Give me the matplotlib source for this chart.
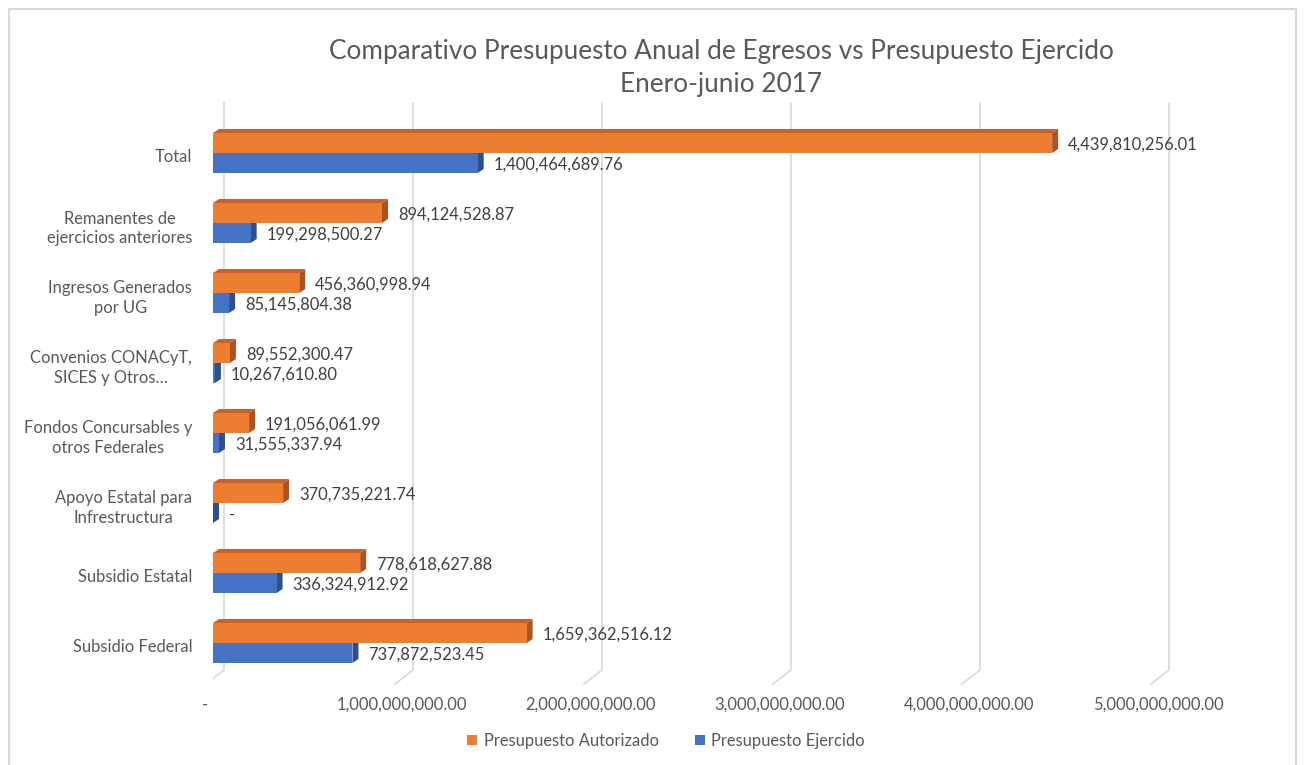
import numpy as np
import matplotlib.pyplot as plt
from matplotlib.patches import Polygon, Rectangle, Patch
from matplotlib.transforms import ScaledTranslation

plt.rcParams['font.family'] = ['Lato', 'DejaVu Sans']

# datos (de abajo hacia arriba)
categorias = ['Subsidio Federal', 'Subsidio Estatal', 'Apoyo Estatal para\nInfrestructura',
              'Fondos Concursables y\notros Federales', 'Convenios CONACyT,\nSICES y Otros…',
              'Ingresos Generados\npor UG', 'Remanentes de\nejercicios anteriores', 'Total']
autorizado = [1659362516.12, 778618627.88, 370735221.74, 191056061.99,
              89552300.47, 456360998.94, 894124528.87, 4439810256.01]
ejercido = [737872523.45, 336324912.92, 0.0, 31555337.94,
            10267610.80, 85145804.38, 199298500.27, 1400464689.76]
ticks_x = [0, 1e9, 2e9, 3e9, 4e9, 5e9]

naranja = ('#ED7D31', '#C8622A', '#AE5320')
azul = ('#4472C4', '#3A63AD', '#2C4F8F')
gris_txt = '#595959'
gris_grid = '#D9D9D9'

W, H = 1305, 765
fig = plt.figure(figsize=(W / 100, H / 100), dpi=100)

# area de trazado (px)
left_px, top_px, bottom_px = 213, 85, 690
escala = 189.0  # px por 1e9
width_px = 1090
ax = fig.add_axes([left_px / W, 1 - bottom_px / H, width_px / W, (bottom_px - top_px) / H])
U = 1e9 / escala   # unidades x por px
V = 1 / 70.0       # unidades y por px
ax.set_xlim(0, width_px * U)
ax.set_ylim(-(bottom_px - 645) * V, 7 + (155 - top_px) * V)
for s in ax.spines.values():
    s.set_visible(False)

# rejilla en perspectiva
for t in ticks_x:
    ax.plot([t + 11 * U, t + 11 * U, t - 7 * U],
            [7 + 52 * V, -25 * V, -39 * V], color=gris_grid, lw=1.2, zorder=0)


def barra3d(y0, h, v, cols):
    dx, dy = 6 * U, 4 * V
    front, top, side = cols
    ax.add_patch(Polygon([(0, y0 + h), (v, y0 + h), (v + dx, y0 + h + dy), (dx, y0 + h + dy)],
                         closed=True, facecolor=top, edgecolor='none', zorder=2))
    ax.add_patch(Polygon([(v, y0), (v + dx, y0 + dy), (v + dx, y0 + h + dy), (v, y0 + h)],
                         closed=True, facecolor=side, edgecolor='none', zorder=2))
    ax.add_patch(Rectangle((0, y0), v, h, facecolor=front, edgecolor='none', zorder=2))


def fmt(v):
    return '-' if v == 0 else f'{v:,.2f}'


h = 20 * V
fs = 11.9
y = np.arange(len(categorias))
for i in y:
    base = i + 2 * V
    barra3d(base - h, h, ejercido[i], azul)
    barra3d(base, h, autorizado[i], naranja)
    ax.text(ejercido[i] + 16 * U, base - h / 2 - 2 * V, fmt(ejercido[i]),
            va='center', ha='left', fontsize=fs, color='#404040')
    ax.text(autorizado[i] + 16 * U, base + h / 2 - 2 * V, fmt(autorizado[i]),
            va='center', ha='left', fontsize=fs, color='#404040')

ax.set_yticks(y)
ax.set_yticklabels(categorias, fontsize=fs, color=gris_txt, multialignment='center',
                   linespacing=1.3)
ax.set_xticks(ticks_x)
ax.set_xticklabels([fmt(t) for t in ticks_x], fontsize=fs, color=gris_txt)
ax.tick_params(axis='y', length=0, pad=15)
ax.tick_params(axis='x', length=0, pad=5)
cero = ax.get_xticklabels()[0]
cero.set_transform(cero.get_transform() + ScaledTranslation(-8 / 100, 0, fig.dpi_scale_trans))

fig.text(721 / W, 1 - 68 / H, 'Comparativo Presupuesto Anual de Egresos vs Presupuesto Ejercido\nEnero-junio 2017',
         ha='center', va='center', fontsize=18.8, color=gris_txt, linespacing=1.42)

fig.legend(handles=[Patch(facecolor=naranja[0], label='Presupuesto Autorizado'),
                    Patch(facecolor=azul[0], label='Presupuesto Ejercido')],
           loc='center', bbox_to_anchor=(666 / W, 1 - 741 / H), ncol=2, frameon=False,
           fontsize=11.9, handlelength=0.6, handleheight=0.6, handletextpad=0.4,
           columnspacing=2.2, labelcolor=gris_txt)

# borde del grafico
fig.patches.append(Rectangle((9 / W, -0.01), 1287 / W, 1 - 9 / H + 0.01, transform=fig.transFigure,
                             fill=False, edgecolor='#D9D9D9', lw=1.5))

fig.savefig('out.png', dpi=100)
